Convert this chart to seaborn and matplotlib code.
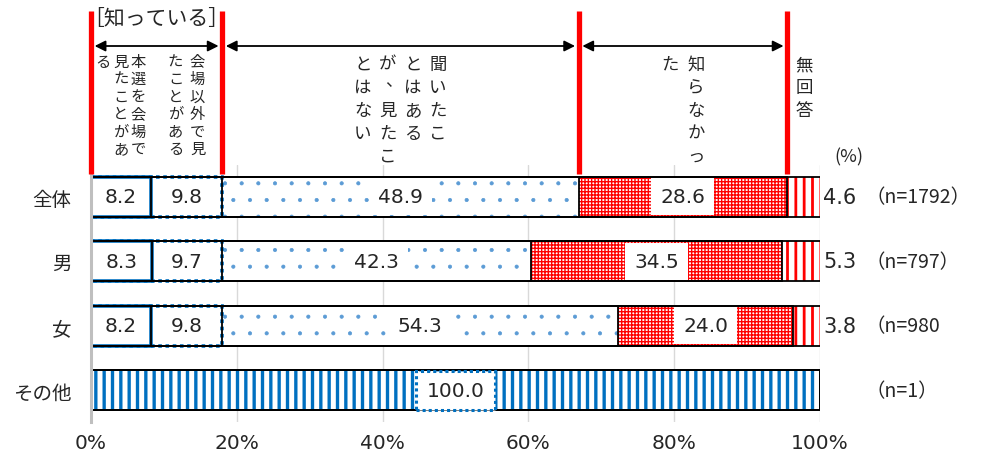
import matplotlib
matplotlib.use("Agg")
import matplotlib.pyplot as plt
import matplotlib.transforms as mtransforms
import numpy as np
import seaborn as sns

groups = ["全体", "男", "女", "その他"]
n_labels = ["（n=1792）", "（n=797）", "（n=980", "（n=1）"]

seen_at_venue = [8.2, 8.3, 8.2, 0.0]
seen_elsewhere = [9.8, 9.7, 9.8, 100.0]
heard_not_seen = [48.9, 42.3, 54.3, 0.0]
did_not_know = [28.6, 34.5, 24.0, 0.0]
no_answer = [4.6, 5.3, 3.8, 0.0]

# header texts, written vertically, columns from right to left
header_columns = [
    ["本選を会場で", "見たことがあ", "る"],
    ["会場以外で見", "たことがある"],
    ["聞いたこ", "とはある", "が、見たこ", "とはない"],
    ["知らなかっ", "た"],
    ["無回答"],
]
known_label = "［知っている］"
x_ticks = [0, 20, 40, 60, 80, 100]

BLUE = "#0070C0"
LIGHT_BLUE = "#5B9BD5"
RED = "#FF0000"
NUM_FONT = "DejaVu Sans"

sns.set_theme(style="white")
plt.rcParams["font.family"] = ["Noto Sans CJK JP", "DejaVu Sans"]

fig = plt.figure(figsize=(9.88, 4.6), dpi=100)
ax = fig.add_axes([91 / 988, 1 - 423 / 460, 729 / 988, (423 - 166) / 460])

segments = [seen_at_venue, seen_elsewhere, heard_not_seen, did_not_know, no_answer]
styles = [
    dict(facecolor="white", edgecolor=BLUE, linewidth=2.6),
    dict(facecolor="white", edgecolor=BLUE, linewidth=2.6, linestyle=(0, (1, 1))),
    dict(facecolor="white", edgecolor=LIGHT_BLUE, linewidth=0, hatch="."),
    dict(facecolor="white", edgecolor=RED, linewidth=0, hatch="+++++"),
    dict(facecolor="white", edgecolor=RED, linewidth=0, hatch="||"),
]
hatch_lw = [1.0, 1.0, 0.5, 1.0, 2.0]

cum = np.cumsum(np.array(segments), axis=0)
starts = cum - np.array(segments)

# stacked bars: cumulative totals drawn from the longest to the shortest
fill_bars = {}
for k in range(len(segments) - 1, -1, -1):
    with plt.rc_context({"hatch.linewidth": hatch_lw[k]}):
        sns.barplot(x=cum[k], y=groups, orient="y", width=0.62,
                    errorbar=None, ax=ax, **styles[k])
    fill_bars[k] = ax.containers[-1]
    for p in fill_bars[k]:
        if hasattr(p, "set_hatch_linewidth"):
            p.set_hatch_linewidth(hatch_lw[k])

# その他 bar is drawn with blue stripes
other = groups.index("その他")
fill_bars[0][other].set_linewidth(0)
bar = fill_bars[1][other]
bar.set_hatch("||")
bar.set_edgecolor(BLUE)
bar.set_linewidth(0)
bar.set_linestyle("-")
if hasattr(bar, "set_hatch_linewidth"):
    bar.set_hatch_linewidth(2.4)

# black outlines of every segment
for k in range(len(segments) - 1, -1, -1):
    sns.barplot(x=cum[k], y=groups, orient="y", width=0.62,
                errorbar=None, ax=ax, facecolor="none", edgecolor="black",
                linewidth=1.3)

# value labels
for k, vals in enumerate(segments):
    for i, v in enumerate(vals):
        if v <= 0:
            continue
        if k == 4:
            ax.text(100.4, i, f"{v:.1f}", ha="left", va="center", fontsize=15,
                    family=NUM_FONT, clip_on=False)
            continue
        box = None
        if k in (2, 3):
            box = dict(boxstyle="square,pad=0.45", fc="white", ec="none")
        if groups[i] == "その他":
            box = dict(boxstyle="square,pad=0.5", fc="white", ec=BLUE,
                       lw=2.2, linestyle=(0, (1, 1)))
        ax.text(starts[k][i] + v / 2, i, f"{v:.1f}", ha="center", va="center",
                fontsize=14.5, family=NUM_FONT, bbox=box, zorder=5)

for i, lab in enumerate(n_labels):
    ax.text(106.2, i, lab, ha="left", va="center", fontsize=14, clip_on=False)

ax.set_xlim(0, 100)
ax.set_xticks(x_ticks)
ax.set_xticklabels([f"{t}%" for t in x_ticks], fontsize=14.5, family=NUM_FONT)
ax.tick_params(axis="y", labelsize=14, pad=14, length=0)
ax.tick_params(axis="x", pad=8, length=0)
ax.set_xlabel("")
ax.set_ylabel("")
ax.grid(axis="x", color="#D9D9D9", linewidth=1)
ax.set_axisbelow(True)
for s in ["top", "right", "bottom"]:
    ax.spines[s].set_visible(False)
ax.spines["left"].set_color("#BFBFBF")
ax.spines["left"].set_linewidth(2.2)

# header: red separators, arrows, vertical labels
blend = mtransforms.blended_transform_factory(ax.transData, fig.transFigure)
bounds = np.concatenate([[0], cum[:, 0]])
known_end = bounds[2]

def fy(px):
    return 1 - px / 460

for b in [bounds[0], bounds[2], bounds[3], bounds[4]]:
    ax.plot([b, b], [fy(12), fy(175)], transform=blend, color=RED, lw=3.8,
            clip_on=False, solid_capstyle="butt", zorder=6)

for a, b in [(bounds[0], bounds[2]), (bounds[2], bounds[3]), (bounds[3], bounds[4])]:
    ax.annotate("", xy=(b - 0.5, fy(47)), xytext=(a + 0.5, fy(47)),
                xycoords=blend, textcoords=blend,
                arrowprops=dict(arrowstyle="<|-|>", color="black", lw=1.3,
                                mutation_scale=16, shrinkA=0, shrinkB=0))

ax.text(known_end / 2, fy(19), known_label, transform=blend, ha="center",
        va="center", fontsize=15, clip_on=False)

def vertical_text(x_center, columns, col_gap, row_gap, top_px, size):
    n = len(columns)
    for i, col in enumerate(columns):
        dx = (n - 1) / 2 * col_gap - i * col_gap
        for j, ch in enumerate(col):
            ox, oy = dx, -j * row_gap
            if ch == "、":
                ox += size * 0.5
                oy += row_gap * 0.3
            tr = blend + mtransforms.Affine2D().translate(ox, oy)
            ax.text(x_center, fy(top_px), ch, transform=tr, ha="center",
                    va="center", fontsize=size, clip_on=False)

centers = (bounds[:-1] + bounds[1:]) / 2
layout = [(17.5, 17.5, 62, 11), (22, 17.5, 62, 11), (25, 23, 65, 12.5),
          (26, 23, 65, 12.5), (25, 23, 65, 12.5)]
for c, cols, (cg, rg, top, size) in zip(centers, header_columns, layout):
    vertical_text(c, cols, cg, rg, top, size)

ax.text(104, fy(157), "(%)", transform=blend, ha="center", va="center",
        fontsize=13, clip_on=False)

fig.savefig("out.png", dpi=100)
